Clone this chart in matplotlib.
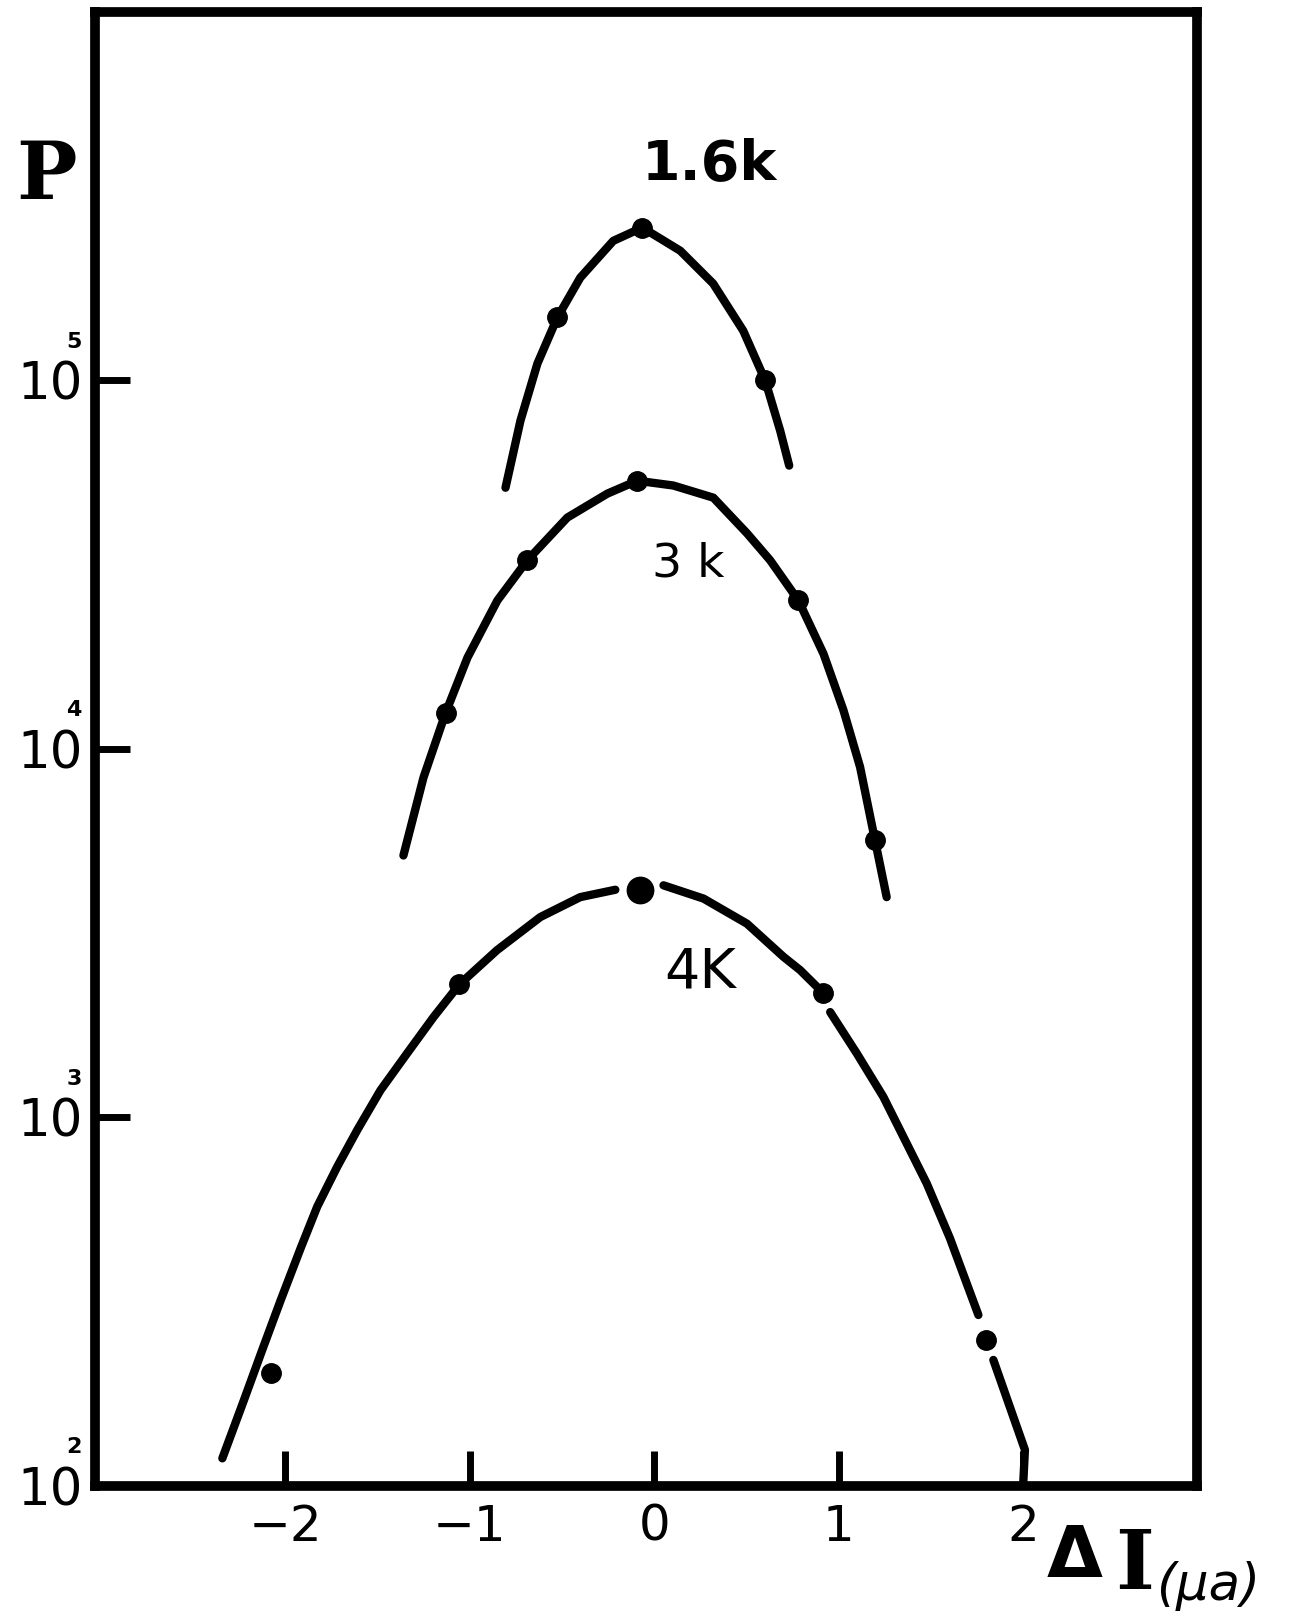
import numpy as np
import matplotlib.pyplot as plt

# curves: x = delta I (microamp), y = log10 P
k16_x = [-0.806, -0.725, -0.633, -0.525, -0.401, -0.222, -0.065, 0.141, 0.319, 0.482, 0.601, 0.682, 0.731]
k16_logp = [4.709, 4.891, 5.046, 5.171, 5.279, 5.379, 5.415, 5.352, 5.263, 5.135, 5.000, 4.864, 4.769]

k3_x = [-1.359, -1.250, -1.131, -1.012, -0.850, -0.688, -0.471, -0.254, -0.092, 0.103, 0.320,
        0.503, 0.628, 0.781, 0.917, 1.025, 1.115, 1.196, 1.259]
k3_logp = [3.711, 3.923, 4.097, 4.248, 4.403, 4.512, 4.628, 4.693, 4.728, 4.715, 4.682,
           4.585, 4.512, 4.403, 4.258, 4.105, 3.951, 3.752, 3.598]

# the 4K line is broken around some of its points (nan = pen lifted)
k4_x = [-2.340, -2.223, -2.124, -2.024, -1.916, -1.826, -1.718, -1.609, -1.483, -1.339, -1.195,
        -1.056, -0.852, -0.617, -0.401, -0.211, np.nan,
        0.050, 0.267, 0.502, 0.700, 0.790, 0.915, np.nan,
        0.953, 1.097, 1.241, 1.350, 1.476, 1.602, 1.756, np.nan,
        1.837, 2.008, 1.999]
k4_logp = [2.075, 2.233, 2.369, 2.504, 2.645, 2.758, 2.866, 2.966, 3.074, 3.174, 3.273,
           3.361, 3.454, 3.544, 3.598, 3.618, np.nan,
           3.630, 3.594, 3.526, 3.436, 3.400, 3.338, np.nan,
           3.286, 3.174, 3.056, 2.947, 2.821, 2.672, 2.464, np.nan,
           2.342, 2.098, 2.008]

# measured points
k16_pts_x = [-0.525, -0.065, 0.601]
k16_pts_logp = [5.171, 5.415, 5.000]
k3_pts_x = [-1.131, -0.688, -0.092, 0.781, 1.196]
k3_pts_logp = [4.097, 4.512, 4.728, 4.403, 3.752]
k4_pts_x = [-2.078, -1.056, 0.915, 1.797]
k4_pts_logp = [2.306, 3.361, 3.338, 2.396]
k4_peak_x = [-0.076]
k4_peak_logp = [3.617]

x_ticks = [-2, -1, 0, 1, 2]
x_ticklabels = ['\u22122', '\u22121', '0', '1', '2']
y_ticks = [1e2, 1e3, 1e4, 1e5]
y_exponents = ['2', '3', '4', '5']


def draw():
    fig = plt.figure(figsize=(12.94, 16.21), dpi=100)
    ax = fig.add_axes([0.0734, 0.0833, 0.8516, 0.9093])
    ax.set_yscale('log')
    ax.set_xlim(-3.03, 2.94)
    ax.set_ylim(1e2, 1e6)

    line_kw = dict(color='black', lw=6, solid_capstyle='round', solid_joinstyle='round')
    ax.plot(k16_x, 10 ** np.array(k16_logp), **line_kw)
    ax.plot(k3_x, 10 ** np.array(k3_logp), **line_kw)
    ax.plot(k4_x, 10 ** np.array(k4_logp), **line_kw)

    dot_kw = dict(ls='none', marker='o', color='black', ms=14)
    ax.plot(k16_pts_x, 10 ** np.array(k16_pts_logp), **dot_kw)
    ax.plot(k3_pts_x, 10 ** np.array(k3_pts_logp), **dot_kw)
    ax.plot(k4_pts_x, 10 ** np.array(k4_pts_logp), **dot_kw)
    ax.plot(k4_peak_x, 10 ** np.array(k4_peak_logp), ls='none', marker='o', color='black', ms=19)

    ax.text(0.30, 10 ** 5.586, '1.6k', fontsize=40, fontweight='bold', ha='center', va='center')
    ax.text(0.184, 10 ** 4.503, '3 k', fontsize=34, ha='center', va='center')
    ax.text(0.249, 10 ** 3.394, '4K', fontsize=40, ha='center', va='center')

    for s in ax.spines.values():
        s.set_linewidth(7)

    ax.set_xticks(x_ticks)
    ax.set_xticklabels(x_ticklabels, fontsize=36)
    ax.set_yticks(y_ticks)
    ax.set_yticklabels(['10'] * len(y_ticks), fontsize=37)
    ax.minorticks_off()
    ax.tick_params(axis='x', direction='in', length=25, width=5, pad=12)
    ax.tick_params(axis='y', direction='in', length=25, width=5, pad=9)

    for val, e in zip(y_ticks, y_exponents):
        ax.annotate(e, xy=(0, val), xycoords=('axes fraction', 'data'),
                    xytext=(-15, 28), textcoords='offset points',
                    fontsize=16, fontweight='bold', ha='center', va='center')

    fig.text(0.036, 0.891, 'P', fontsize=58, fontweight='bold', family='DejaVu Serif',
             ha='center', va='center')
    # axis name, bottom right: "ΔI(μa)"
    fig.text(0.809, 0.0271, '\u0394', fontsize=52, fontweight='bold', ha='left', va='baseline')
    fig.text(0.862, 0.0197, 'I', fontsize=60, fontweight='bold', family='DejaVu Serif',
             ha='left', va='baseline')
    fig.text(0.893, 0.013, '(\u03bca)', fontsize=37, style='italic', ha='left', va='baseline')

    fig.savefig('out.png', dpi=100)


if __name__ == '__main__':
    draw()
